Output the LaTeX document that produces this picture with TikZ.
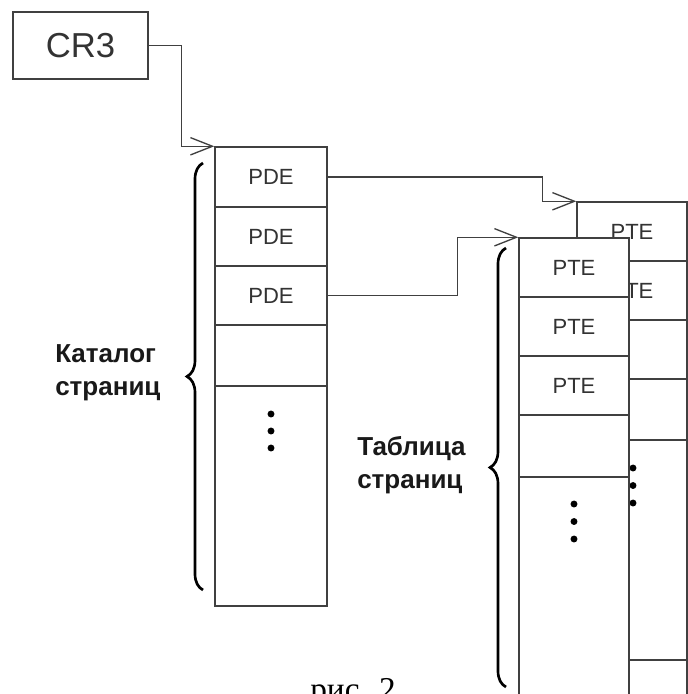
\documentclass[tikz,border=0pt]{standalone}
\usepackage{fontspec}
\setmainfont{Liberation Sans}
\newfontfamily\capfont{Liberation Serif}
\usetikzlibrary{arrows.meta,decorations.pathreplacing}

\tikzset{
  cell/.style={draw=black!75, line width=1.1pt, fill=white, inner sep=0pt, text=black!80, font=\fontsize{16.5}{16.5}\selectfont},
  conn/.style={draw=black!75, line width=1pt},
  tip/.style={-{Straight Barb[length=16.5pt, width=13pt]}},
  bracket/.style={decorate, decoration={brace, amplitude=12pt}, line width=2pt},
  sidetext/.style={align=left, inner sep=0pt, text=black!90, font=\fontsize{19.5}{24.5}\selectfont\bfseries}
}

\begin{document}
\begin{tikzpicture}[x=0.75pt, y=-0.75pt]
    \clip (0,0) rectangle (688,694);
    \fill[white] (0,0) rectangle (688,694);

    % register
    \node[cell, minimum width=101.25pt, minimum height=50.25pt, font=\fontsize{26}{26}\selectfont] (cr3) at (80.5,45.5) {CR3};

    % second page table (behind)
    \node[cell, minimum width=82.5pt, minimum height=44.25pt] (back1) at (632,231.5) {PTE};
    \node[cell, minimum width=82.5pt, minimum height=44.25pt] (back2) at (632,290.5) {PTE};
    \node[cell, minimum width=82.5pt, minimum height=44.25pt] (back3) at (632,349.5) {};
    \node[cell, minimum width=82.5pt, minimum height=45.75pt] (back4) at (632,409.5) {};
    \node[cell, minimum width=82.5pt, minimum height=165pt] (back5) at (632,550) {};
    \node[cell, minimum width=82.5pt, minimum height=60pt] (back6) at (632,700) {};
    \fill (633,468) circle (2.6pt) (633,485.5) circle (2.6pt) (633,503) circle (2.6pt);

    % page table
    \node[cell, minimum width=82.5pt, minimum height=44.25pt] (pte1) at (574,267.5) {PTE};
    \node[cell, minimum width=82.5pt, minimum height=44.25pt] (pte2) at (574,326.5) {PTE};
    \node[cell, minimum width=82.5pt, minimum height=44.25pt] (pte3) at (574,385.5) {PTE};
    \node[cell, minimum width=82.5pt, minimum height=46.5pt] (pte4) at (574,446) {};
    \node[cell, minimum width=82.5pt, minimum height=197.25pt] (pte5) at (574,608.5) {};
    \fill (574,504) circle (2.6pt) (574,521.5) circle (2.6pt) (574,539) circle (2.6pt);

    % page directory
    \node[cell, minimum width=84pt, minimum height=45pt] (pde1) at (271,177) {PDE};
    \node[cell, minimum width=84pt, minimum height=44.25pt] (pde2) at (271,236.5) {PDE};
    \node[cell, minimum width=84pt, minimum height=44.25pt] (pde3) at (271,295.5) {PDE};
    \node[cell, minimum width=84pt, minimum height=45.75pt] (pde4) at (271,355.5) {};
    \node[cell, minimum width=84pt, minimum height=165pt] (pde5) at (271,496) {};
    \fill (271,414) circle (2.6pt) (271,431) circle (2.6pt) (271,448) circle (2.6pt);

    \draw[conn, tip] (cr3.east) -| ([xshift=-24.75pt]pde1.north west) -- (pde1.north west);
    \draw[conn, tip] (pde1.east) -| ([xshift=-25.5pt]back1.north west) -- (back1.north west);
    \draw[conn, tip] (pde3.east) -| ([xshift=-45.75pt]pte1.north west) -- (pte1.north west);

    \draw[bracket] (203,590) -- (203,163);
    \draw[bracket] (506,687) -- (506,248);

    \node[sidetext, anchor=west] (dirlabel) at (55,373) {Каталог\\страниц};
    \node[sidetext, anchor=west] (tablabel) at (357,465) {Таблица\\страниц};

    \node[inner sep=0pt, anchor=base east, font=\capfont\fontsize{25}{25}\selectfont] (caption) at (396,700) {рис. 2};
  \end{tikzpicture}
\end{document}
